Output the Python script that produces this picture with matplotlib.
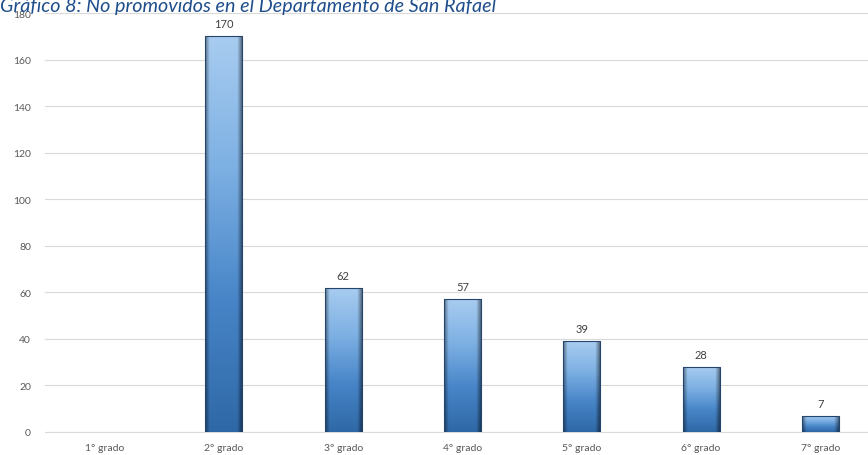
import numpy as np
import matplotlib
matplotlib.use("Agg")
import matplotlib.pyplot as plt
from matplotlib.colors import LinearSegmentedColormap

categories = ["1° grado", "2° grado", "3° grado", "4° grado", "5° grado", "6° grado", "7° grado"]
values = [0, 170, 62, 57, 39, 28, 7]
yticks = list(range(0, 181, 20))

plt.rcParams['font.family'] = ['Lato', 'DejaVu Sans']

fig = plt.figure(figsize=(8.68, 4.56), dpi=100)
ax = fig.add_axes([45 / 868, 23 / 456, (868 - 45) / 868, (442 - 23) / 456])

x = np.arange(len(categories))
bars = ax.bar(x, values, width=0.31, color='none', edgecolor='none', zorder=3)

# vertical gradient light->dark plus darker bevel on the sides
cmap = LinearSegmentedColormap.from_list("bl", ["#2f68a6", "#4785c8", "#7db0e3", "#a8ccf0"])
for b, v in zip(bars, values):
    if v <= 0:
        continue
    x0, w = b.get_x(), b.get_width()
    ny, nx = 200, 60
    vert = np.linspace(0, 1, ny)[:, None] * np.ones((1, nx))
    img = cmap(vert)
    u = np.linspace(0, 1, nx)
    side = np.clip(1 - np.minimum(u, 1 - u) / 0.12, 0, 1)
    shade = 1 - 0.45 * side
    img[:, :, :3] *= shade[None, :, None]
    im = ax.imshow(img, extent=[x0, x0 + w, 0, v], origin='lower', aspect='auto',
                   zorder=3, interpolation='bilinear')
    im.set_clip_path(b)
    ax.plot([x0, x0 + w, x0 + w, x0, x0], [0, 0, v, v, 0], color='#24466e', lw=0.8, zorder=4)
    ax.annotate(str(v), (x0 + w / 2, v), xytext=(0, 5), textcoords='offset points',
                ha='center', va='bottom', fontsize=8, color='#404040')

ax.set_xlim(-0.5, 6.4)
ax.set_ylim(0, 180)
ax.set_yticks(yticks)
ax.set_xticks(x)
ax.set_xticklabels(categories)
ax.tick_params(axis='both', length=0, labelsize=7.5, labelcolor='#595959')
ax.tick_params(axis='x', pad=8)
ax.tick_params(axis='y', pad=10)
ax.grid(axis='y', color='#d9d9d9', lw=0.8, zorder=0)
for s in ['top', 'right', 'left']:
    ax.spines[s].set_visible(False)
ax.spines['bottom'].set_color('#d9d9d9')

fig.text(0.0, 456 - 12, "Gráfico 8: No promovidos en el Departamento de San Rafael",
         transform=None, ha='left', va='baseline', fontsize=14.2, style='italic',
         color='#1f4e8c')

fig.savefig("out.png", dpi=100)
